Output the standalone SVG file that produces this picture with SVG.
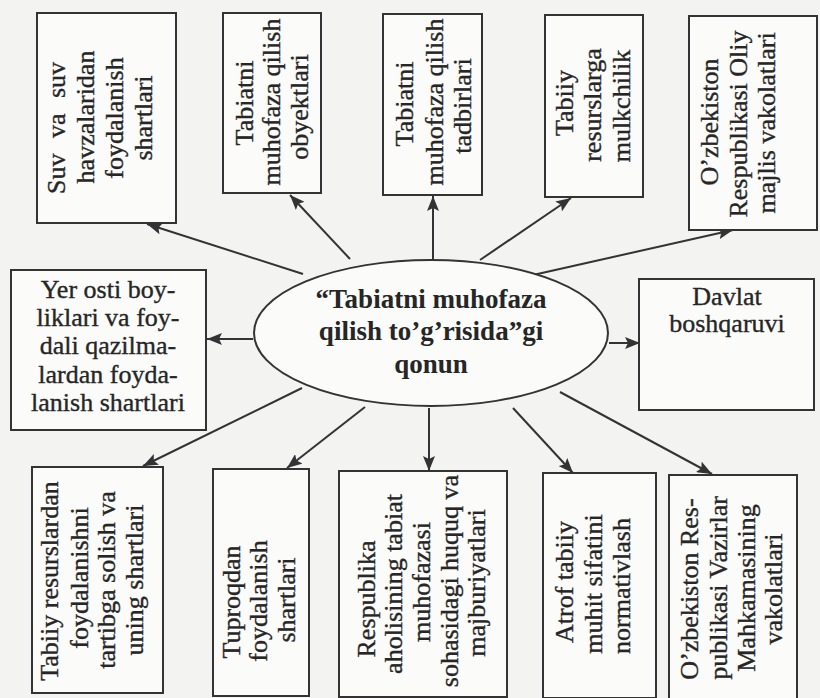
<svg xmlns="http://www.w3.org/2000/svg" width="820" height="698" viewBox="0 0 820 698">
<defs>
<marker id="ah" markerUnits="userSpaceOnUse" markerWidth="16" markerHeight="12" refX="15" refY="6" orient="auto">
<path d="M0,0 L15,6 L0,12 L3,6 z" fill="#333"/>
</marker>
<style>
.box{fill:#fbfbfa;stroke:#333;stroke-width:2}
.t{font-family:"Liberation Serif","Times New Roman",serif;font-size:26px;fill:#262626;stroke:#262626;stroke-width:0.35;text-anchor:middle}
.tb{font-family:"Liberation Serif","Times New Roman",serif;font-size:27px;font-weight:bold;fill:#262626;text-anchor:middle}
.c{stroke:#333;stroke-width:2;fill:none;marker-end:url(#ah)}
</style>
</defs>
<rect x="0" y="0" width="820" height="698" fill="#f3f3f1"/>

<g id="connectors">
<line class="c" x1="303" y1="274" x2="147" y2="224"/>
<line class="c" x1="350" y1="259" x2="290" y2="195"/>
<line class="c" x1="433" y1="260" x2="433" y2="196"/>
<line class="c" x1="480" y1="260" x2="571" y2="198"/>
<line class="c" x1="533" y1="275" x2="733" y2="230"/>
<line class="c" x1="253" y1="339" x2="207" y2="339"/>
<line class="c" x1="609" y1="343" x2="640" y2="343"/>
<line class="c" x1="302" y1="388" x2="143" y2="466"/>
<line class="c" x1="365" y1="407" x2="287" y2="468"/>
<line class="c" x1="429" y1="408" x2="429" y2="471"/>
<line class="c" x1="513" y1="408" x2="573" y2="473"/>
<line class="c" x1="560" y1="392" x2="712" y2="474"/>
</g>

<g id="center">
<ellipse cx="431" cy="333" rx="177" ry="73" fill="#fbfbfa" stroke="#333" stroke-width="2"/>
<text class="tb" x="431" y="308">“Tabiatni muhofaza</text>
<text class="tb" x="431" y="340">qilish to’g’risida”gi</text>
<text class="tb" x="431" y="373">qonun</text>
</g>

<g id="n1">
<rect class="box" x="37" y="13" width="139" height="210"/>
<text class="t" transform="translate(65,128) rotate(-90)" word-spacing="9">Suv va suv</text>
<text class="t" transform="translate(94,117) rotate(-90)">havzalaridan</text>
<text class="t" transform="translate(123,118) rotate(-90)">foydalanish</text>
<text class="t" transform="translate(152,118) rotate(-90)">shartlari</text>
</g>

<g id="n2">
<rect class="box" x="223" y="13" width="98" height="180"/>
<text class="t" transform="translate(253,103) rotate(-90)">Tabiatni</text>
<text class="t" transform="translate(280,102) rotate(-90)">muhofaza qilish</text>
<text class="t" transform="translate(308,107) rotate(-90)">obyektlari</text>
</g>

<g id="n3">
<rect class="box" x="383" y="14" width="99" height="181"/>
<text class="t" transform="translate(413,104) rotate(-90)">Tabiatni</text>
<text class="t" transform="translate(443,102) rotate(-90)">muhofaza qilish</text>
<text class="t" transform="translate(471,106) rotate(-90)">tadbirlari</text>
</g>

<g id="n4">
<rect class="box" x="545" y="15" width="98" height="182"/>
<text class="t" transform="translate(573,103) rotate(-90)">Tabiiy</text>
<text class="t" transform="translate(601,105) rotate(-90)">resurslarga</text>
<text class="t" transform="translate(630,106) rotate(-90)">mulkchilik</text>
</g>

<g id="n5">
<rect class="box" x="689" y="16" width="128" height="214"/>
<text class="t" transform="translate(718,122) rotate(-90)">O’zbekiston</text>
<text class="t" transform="translate(747,124) rotate(-90)">Respublikasi Oliy</text>
<text class="t" transform="translate(775,123) rotate(-90)">majlis vakolatlari</text>
</g>

<g id="n6">
<rect class="box" x="11" y="270" width="195" height="160"/>
<text class="t" x="108" y="298">Yer osti boy-</text>
<text class="t" x="108" y="326">liklari va foy-</text>
<text class="t" x="108" y="354">dali qazilma-</text>
<text class="t" x="108" y="383">lardan foyda-</text>
<text class="t" x="108" y="411">lanish shartlari</text>
</g>

<g id="n7">
<rect class="box" x="639" y="279" width="175" height="131"/>
<text class="t" x="727" y="305">Davlat</text>
<text class="t" x="727" y="332">boshqaruvi</text>
</g>

<g id="n8">
<rect class="box" x="32" y="467" width="131" height="226"/>
<text class="t" transform="translate(58,581) rotate(-90)">Tabiiy resurslardan</text>
<text class="t" transform="translate(88,578) rotate(-90)">foydalanishni</text>
<text class="t" transform="translate(115,580) rotate(-90)">tartibga solish va</text>
<text class="t" transform="translate(143,580) rotate(-90)">uning shartlari</text>
</g>

<g id="n9">
<rect class="box" x="213" y="469" width="96" height="227"/>
<text class="t" transform="translate(240,602) rotate(-90)">Tuproqdan</text>
<text class="t" transform="translate(267,601) rotate(-90)">foydalanish</text>
<text class="t" transform="translate(295,600) rotate(-90)">shartlari</text>
</g>

<g id="n10">
<rect class="box" x="339" y="471" width="168" height="226"/>
<text class="t" transform="translate(375,599) rotate(-90)">Respublika</text>
<text class="t" transform="translate(402,584) rotate(-90)">aholisining tabiat</text>
<text class="t" transform="translate(430,582) rotate(-90)">muhofazasi</text>
<text class="t" transform="translate(458,581) rotate(-90)">sohasidagi huquq va</text>
<text class="t" transform="translate(485,583) rotate(-90)">majburiyatlari</text>
</g>

<g id="n11">
<rect class="box" x="543" y="473" width="113" height="225"/>
<text class="t" transform="translate(573,582) rotate(-90)">Atrof tabiiy</text>
<text class="t" transform="translate(602,584) rotate(-90)">muhit sifatini</text>
<text class="t" transform="translate(630,586) rotate(-90)">normativlash</text>
</g>

<g id="n12">
<rect class="box" x="669" y="475" width="128" height="226"/>
<text class="t" transform="translate(698,589) rotate(-90)">O’zbekiston Res-</text>
<text class="t" transform="translate(727,588) rotate(-90)">publikasi Vazirlar</text>
<text class="t" transform="translate(755,588) rotate(-90)">Mahkamasining</text>
<text class="t" transform="translate(782,589) rotate(-90)">vakolatlari</text>
</g>
</svg>
